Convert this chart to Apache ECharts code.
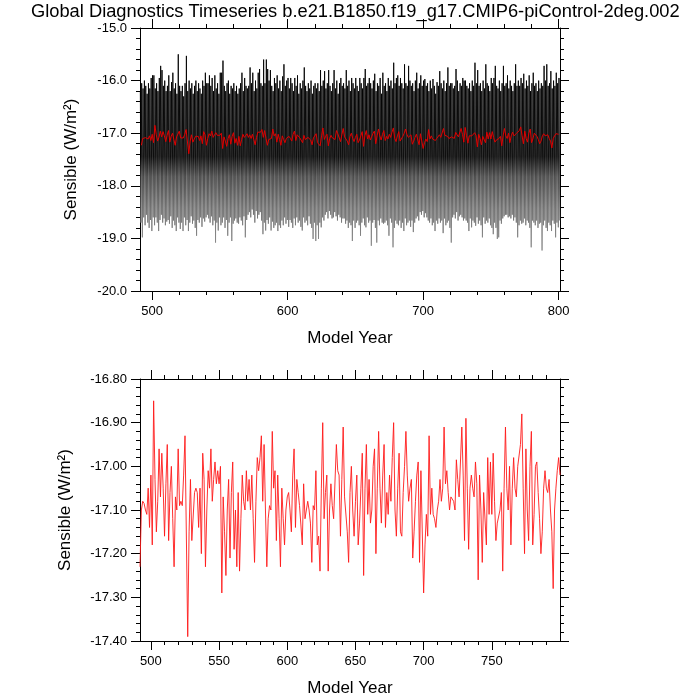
<!DOCTYPE html>
<html>
<head>
<meta charset="utf-8">
<script src="https://cdn.jsdelivr.net/npm/echarts@6/dist/echarts.min.js"></script>
<style>
html,body{margin:0;padding:0;background:#fff;}
#chart{width:700px;height:700px;}
</style>
</head>
<body>
<div id="chart"></div>
<script>
// ---------- DATA ----------
const chartTitle = 'Global Diagnostics Timeseries b.e21.B1850.f19_g17.CMIP6-piControl-2deg.002';
const yName = 'Sensible (W/m\u00B2)';
const xName = 'Model Year';

// Monthly series (top panel) summarised per model year: seasonal high and low, years 491..800
const monthlyStartYear = 491;
const monthlyHigh = [
 -16.20,-16.05,-16.15,-16.00,-16.10,-16.25,-16.05,-16.15,-15.95,-15.90,
 -15.90,-16.15,-16.05,-16.20,-15.95,-15.72,-15.80,-16.10,-16.00,-16.20,
 -16.10,-15.90,-16.20,-16.03,-15.85,-16.15,-16.05,-16.25,-15.50,-16.10,
 -16.20,-16.10,-16.30,-16.05,-15.53,-16.20,-16.00,-16.15,-16.05,-16.25,
 -16.10,-16.00,-16.20,-16.05,-16.15,-16.25,-16.00,-16.10,-15.85,-16.05,
 -16.05,-15.90,-16.10,-15.95,-16.20,-15.90,-16.15,-16.05,-16.25,-15.85,
 -15.85,-15.62,-16.10,-16.20,-16.05,-16.00,-16.25,-16.10,-16.15,-16.05,
 -16.20,-16.10,-16.25,-16.15,-16.05,-15.85,-16.20,-15.95,-16.10,-16.15,
 -16.10,-15.75,-16.05,-15.85,-16.20,-16.00,-16.15,-15.85,-15.78,-16.05,
 -16.10,-15.60,-16.05,-15.60,-15.78,-16.00,-15.80,-16.10,-16.20,-15.95,
 -16.05,-15.90,-16.15,-16.00,-16.20,-15.92,-15.69,-16.10,-16.00,-15.95,
 -16.15,-15.95,-16.05,-16.20,-15.95,-16.10,-15.90,-16.25,-16.05,-16.15,
 -16.00,-15.75,-16.10,-16.20,-16.05,-16.15,-16.00,-16.25,-16.10,-16.05,
 -16.15,-16.05,-16.20,-15.80,-16.10,-16.00,-15.82,-16.15,-16.05,-15.80,
 -16.10,-16.20,-16.05,-15.80,-16.15,-16.00,-16.25,-16.05,-15.95,-16.10,
 -16.05,-16.15,-15.80,-16.10,-16.00,-16.20,-15.95,-16.05,-16.15,-15.95,
 -16.10,-16.20,-15.95,-16.05,-16.15,-15.95,-15.78,-16.10,-16.05,-15.95,
 -16.05,-16.15,-16.00,-15.87,-16.20,-16.05,-16.10,-15.95,-16.25,-15.85,
 -16.10,-16.05,-16.20,-15.95,-16.10,-16.00,-16.15,-15.66,-16.05,-15.95,
 -15.90,-16.10,-15.95,-16.05,-16.15,-15.69,-16.05,-16.10,-15.72,-16.00,
 -16.10,-16.05,-16.20,-16.00,-15.85,-16.15,-16.05,-15.90,-16.10,-16.00,
 -15.97,-16.10,-16.05,-16.20,-16.00,-16.15,-15.97,-16.10,-16.25,-16.03,
 -16.10,-15.82,-16.05,-16.15,-16.00,-16.20,-16.05,-15.75,-16.10,-16.05,
 -16.05,-16.15,-16.10,-15.78,-16.00,-16.20,-16.05,-16.10,-15.95,-16.00,
 -16.00,-16.10,-16.15,-16.05,-16.20,-16.00,-16.10,-15.66,-16.05,-15.80,
 -16.10,-16.05,-16.20,-16.00,-16.15,-15.69,-16.05,-16.10,-16.20,-15.95,
 -16.05,-15.95,-15.72,-16.10,-16.15,-16.00,-16.20,-16.05,-15.72,-16.10,
 -16.05,-15.90,-16.15,-16.00,-16.10,-16.20,-16.05,-15.69,-16.10,-16.00,
 -16.10,-15.95,-16.05,-15.87,-16.15,-16.00,-16.10,-15.90,-16.20,-16.05,
 -15.85,-16.10,-16.05,-16.20,-16.00,-16.15,-16.05,-16.10,-15.72,-16.00,
 -15.69,-16.10,-16.05,-15.82,-16.15,-16.00,-16.10,-15.85,-16.05,-15.95
];
const monthlyLow = [
 -18.70,-18.98,-18.60,-18.75,-18.55,-18.70,-18.80,-18.65,-18.86,-18.60,
 -18.75,-18.60,-18.70,-18.86,-18.65,-18.55,-18.70,-18.62,-18.75,-18.68,
 -18.65,-18.72,-18.58,-18.80,-18.66,-18.75,-18.86,-18.60,-18.70,-18.82,
 -18.70,-18.86,-18.60,-18.75,-18.65,-18.86,-18.70,-18.58,-18.72,-18.66,
 -18.80,-18.95,-18.65,-18.70,-18.60,-18.78,-18.62,-18.68,-18.60,-18.55,
 -18.62,-18.70,-18.58,-18.75,-18.66,-19.08,-18.70,-18.85,-18.60,-18.75,
 -18.70,-18.60,-18.80,-18.65,-18.95,-18.70,-18.60,-19.05,-18.72,-18.66,
 -18.62,-18.70,-18.72,-18.60,-18.66,-18.75,-18.58,-18.98,-18.65,-18.55,
 -18.50,-18.60,-18.45,-18.55,-18.70,-18.48,-18.62,-18.55,-18.50,-18.66,
 -18.92,-18.70,-18.85,-18.65,-18.72,-18.60,-18.85,-18.68,-18.80,-18.75,
 -18.70,-18.86,-18.75,-18.80,-18.66,-18.75,-18.60,-18.72,-18.65,-18.78,
 -18.65,-18.70,-18.80,-18.62,-18.75,-18.60,-18.70,-18.66,-18.78,-18.85,
 -18.60,-18.70,-18.66,-18.75,-18.58,-18.72,-18.80,-19.01,-18.70,-19.05,
 -18.75,-19.01,-18.70,-18.79,-18.60,-18.66,-18.55,-18.50,-18.62,-18.48,
 -18.55,-18.62,-18.60,-18.50,-18.58,-18.66,-18.55,-18.60,-18.70,-18.62,
 -18.62,-18.72,-18.66,-18.80,-18.70,-18.75,-19.05,-18.66,-18.80,-18.70,
 -18.66,-18.75,-18.95,-18.70,-18.62,-18.75,-18.79,-18.60,-18.70,-18.66,
 -19.14,-18.70,-18.65,-18.80,-19.08,-18.66,-18.75,-18.62,-18.70,-18.72,
 -18.70,-18.66,-18.75,-18.95,-18.62,-18.70,-19.17,-18.80,-18.66,-18.72,
 -18.75,-18.66,-18.80,-18.70,-18.86,-18.62,-18.75,-18.70,-18.66,-18.78,
 -18.66,-18.88,-18.70,-18.62,-18.58,-18.66,-18.50,-18.55,-18.48,-18.60,
 -18.52,-18.60,-18.66,-18.70,-18.62,-18.75,-18.70,-18.86,-18.66,-18.72,
 -18.62,-18.70,-18.66,-18.90,-18.62,-18.75,-18.70,-18.66,-18.80,-19.08,
 -18.60,-18.55,-18.62,-18.50,-18.66,-18.58,-18.55,-18.60,-18.66,-18.62,
 -18.66,-18.70,-18.86,-18.62,-18.79,-18.66,-18.70,-18.76,-18.60,-18.72,
 -18.66,-18.75,-18.98,-18.60,-18.72,-18.66,-18.70,-18.62,-18.75,-18.80,
 -18.92,-18.70,-18.80,-19.01,-18.98,-18.66,-18.72,-18.62,-18.58,-18.55,
 -18.55,-18.60,-18.58,-18.62,-18.55,-18.66,-18.60,-18.70,-18.98,-18.75,
 -18.66,-18.72,-18.70,-18.62,-18.75,-18.66,-18.70,-18.80,-19.17,-18.66,
 -18.70,-18.75,-18.66,-18.80,-18.72,-18.70,-19.23,-18.75,-18.66,-18.80,
 -18.86,-18.70,-18.75,-18.86,-18.66,-18.72,-18.98,-18.70,-18.79,-18.66
];

// Annual means, years 492..800
const annualStartYear = 492;
const annualMean = [
 -17.23,-17.10,-17.08,-17.085,-17.10,-17.11,-17.05,-17.14,-17.02,
 -17.18,-16.85,-17.03,-17.15,-17.08,-16.96,-17.07,-16.97,-17.05,-17.16,
 -17.04,-16.95,-17.17,-17.06,-17.00,-17.12,-17.23,-17.07,-17.10,-16.96,
 -17.09,-17.08,-17.09,-17.02,-16.93,-16.93,-17.39,-17.15,-17.03,-17.17,
 -17.17,-17.06,-17.05,-17.06,-17.14,-17.05,-17.20,-16.97,-17.03,-17.23,
 -17.10,-17.01,-17.05,-16.96,-17.08,-17.03,-16.99,-17.04,-17.01,-17.04,
 -17.00,-17.29,-17.07,-17.15,-17.25,-17.10,-17.03,-17.21,-17.06,-16.99,
 -17.19,-17.10,-17.23,-17.06,-17.24,-17.12,-17.02,-17.08,-17.10,-17.01,
 -17.08,-17.03,-17.10,-17.02,-17.12,-17.22,-17.08,-16.98,-17.01,-16.98,
 -16.93,-17.08,-16.95,-17.10,-17.23,-17.12,-17.09,-17.10,-16.92,-17.05,
 -17.01,-17.17,-17.02,-17.12,-17.23,-17.05,-17.12,-17.18,-17.10,-17.07,
 -17.06,-17.10,-17.15,-17.02,-16.96,-17.14,-17.03,-17.06,-17.09,-17.09,
 -17.18,-17.04,-17.12,-17.12,-17.08,-17.10,-17.13,-17.22,-17.09,-17.10,
 -17.01,-17.18,-17.16,-17.24,-17.05,-16.90,-17.12,-17.06,-17.02,-17.24,
 -17.10,-17.04,-17.09,-17.12,-17.12,-16.95,-17.01,-17.02,-17.16,-17.03,
 -16.91,-17.07,-17.07,-17.15,-17.22,-17.06,-17.00,-17.10,-17.16,-17.08,
 -17.02,-17.18,-17.13,-17.05,-16.97,-17.25,-17.05,-16.95,-17.11,-17.03,
 -17.13,-17.10,-17.00,-16.96,-17.20,-17.05,-16.92,-17.05,-17.13,-17.02,
 -16.95,-17.14,-17.06,-17.11,-17.02,-17.08,-16.98,-16.90,-17.10,-17.16,
 -17.05,-16.97,-17.15,-17.16,-17.06,-17.00,-16.92,-17.02,-17.08,-17.05,
 -17.03,-17.21,-17.15,-17.08,-17.02,-16.99,-17.22,-17.01,-17.01,-17.29,
 -17.18,-17.11,-17.16,-16.93,-17.11,-17.05,-17.11,-17.12,-17.14,-17.10,
 -17.08,-17.03,-17.08,-17.05,-16.91,-17.04,-17.01,-17.06,-17.10,-17.07,
 -17.07,-17.08,-17.10,-16.985,-17.03,-17.07,-17.07,-16.91,-17.02,-17.17,
 -16.89,-17.05,-17.19,-17.05,-17.02,-17.05,-17.07,-16.99,-17.04,-17.26,
 -17.02,-17.10,-17.22,-17.06,-17.06,-17.18,-16.98,-17.11,-16.99,-17.11,
 -16.97,-17.08,-17.17,-17.13,-17.13,-17.10,-17.06,-17.24,-17.05,-16.91,
 -17.05,-17.10,-17.00,-17.18,-17.05,-16.98,-17.05,-17.07,-17.00,-17.00,
 -16.95,-16.88,-17.05,-17.20,-16.96,-17.10,-17.17,-17.00,-16.92,-17.18,
 -17.11,-17.00,-16.99,-17.06,-17.12,-17.20,-17.15,-17.05,-17.01,-17.05,
 -17.06,-17.03,-17.10,-17.15,-17.28,-17.10,-17.05,-17.01,-16.98,-17.02
];

// Tick values
const topMajorX = [500, 600, 700, 800];
const topMinorX = [520, 540, 560, 580, 620, 640, 660, 680, 720, 740, 760, 780];
const botMajorX = [500, 550, 600, 650, 700, 750];
const botMinorX = [510, 520, 530, 540, 560, 570, 580, 590, 610, 620, 630, 640, 660, 670, 680, 690, 710, 720, 730, 740, 760, 770, 780, 790];

// ---------- BUILD ----------
const monthlyPts = [];
for (let i = 0; i < monthlyHigh.length; i++) {
  monthlyPts.push([monthlyStartYear + i + 0.25, monthlyHigh[i]]);
  monthlyPts.push([monthlyStartYear + i + 0.75, monthlyLow[i]]);
}
const annualPts = annualMean.map((v, i) => [annualStartYear + i, v]);

const FONT = 'Liberation Sans, Arial, Helvetica, sans-serif';
const black = '#000';

function xAx(grid, min, max, pos, ticks, len, showLine, labels, name) {
  return {
    type: 'value', gridIndex: grid, min: min, max: max, position: pos,
    axisLine: { show: showLine, onZero: false, lineStyle: { color: black, width: 1 } },
    axisTick: { show: true, customValues: ticks, length: len, lineStyle: { color: black, width: 1 } },
    axisLabel: labels ? { show: true, customValues: ticks, color: black, fontSize: 13, fontFamily: FONT, margin: 14 } : { show: false },
    splitLine: { show: false },
    name: name || '', nameLocation: 'middle', nameGap: 39,
    nameTextStyle: { color: black, fontSize: 17, fontFamily: FONT }
  };
}
function yAx(grid, min, max, interval, digits, pos, labels, nameGap) {
  return {
    type: 'value', gridIndex: grid, min: min, max: max, interval: interval, position: pos,
    axisLine: { show: true, onZero: false, lineStyle: { color: black, width: 1 } },
    axisTick: { show: true, length: 9, lineStyle: { color: black, width: 1 } },
    minorTick: { show: true, splitNumber: 5, length: 4, lineStyle: { color: black, width: 1 } },
    axisLabel: labels ? { show: true, color: black, fontSize: 13, fontFamily: FONT, margin: 13,
      formatter: v => v.toFixed(digits) } : { show: false },
    splitLine: { show: false }, minorSplitLine: { show: false },
    name: labels ? yName : '', nameLocation: 'middle', nameGap: nameGap || 0,
    nameTextStyle: { color: black, fontSize: 17, fontFamily: FONT }
  };
}

const chart = echarts.init(document.getElementById('chart'), null, { renderer: 'canvas' });
chart.setOption({
  backgroundColor: '#fff',
  animation: false,
  title: {
    text: chartTitle, left: 31, top: 3, padding: 0,
    textStyle: { color: black, fontSize: 18.3, fontWeight: 'normal', fontFamily: FONT }
  },
  grid: [
    { left: 140, right: 140, top: 28, height: 263 },
    { left: 140, right: 140, top: 379, height: 262 }
  ],
  xAxis: [
    xAx(0, 491, 801, 'bottom', topMajorX, 9, true, true, xName),
    xAx(0, 491, 801, 'bottom', topMinorX, 4, false, false),
    xAx(0, 491, 801, 'top', topMajorX, 9, true, false),
    xAx(0, 491, 801, 'top', topMinorX, 4, false, false),
    xAx(1, 492, 800, 'bottom', botMajorX, 9, true, true, xName),
    xAx(1, 492, 800, 'bottom', botMinorX, 4, false, false),
    xAx(1, 492, 800, 'top', botMajorX, 9, true, false),
    xAx(1, 492, 800, 'top', botMinorX, 4, false, false)
  ],
  yAxis: [
    yAx(0, -20, -15, 1, 1, 'left', true, 60),
    yAx(0, -20, -15, 1, 1, 'right', false),
    yAx(1, -17.4, -16.8, 0.1, 2, 'left', true, 66),
    yAx(1, -17.4, -16.8, 0.1, 2, 'right', false)
  ],
  series: [
    {
      type: 'line', xAxisIndex: 0, yAxisIndex: 0, data: monthlyPts,
      showSymbol: false, symbol: 'none', silent: true,
      lineStyle: { width: 0.9, color: new echarts.graphic.LinearGradient(0, 0, 0, 1, [
        { offset: 0, color: '#000' }, { offset: 0.52, color: '#000' },
        { offset: 0.62, color: '#444' }, { offset: 0.78, color: '#707070' }, { offset: 1, color: '#8e8e8e' }
      ]) }
    },
    {
      type: 'line', xAxisIndex: 0, yAxisIndex: 0, data: annualPts, z: 3,
      showSymbol: false, symbol: 'none', silent: true,
      lineStyle: { width: 1, color: '#e00000' }
    },
    {
      type: 'line', xAxisIndex: 4, yAxisIndex: 2, data: annualPts,
      showSymbol: false, symbol: 'none', silent: true,
      lineStyle: { width: 0.9, color: '#ff1a1a' }
    }
  ]
});
</script>
</body>
</html>
